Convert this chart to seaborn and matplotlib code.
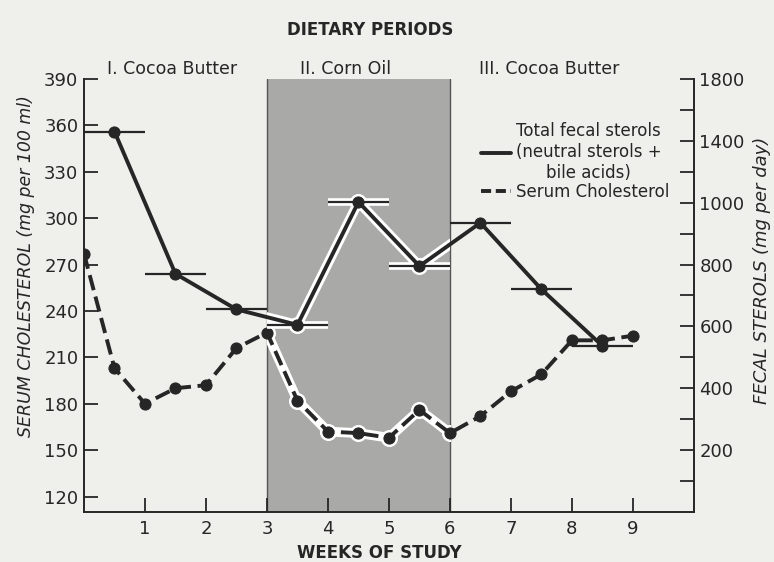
import numpy as np
import pandas as pd
import matplotlib
matplotlib.use("Agg")
import matplotlib.pyplot as plt
from matplotlib.lines import Line2D
from matplotlib.patches import Rectangle
import seaborn as sns

# ---------------- data ----------------
serum_weeks = [0, 0.5, 1, 1.5, 2, 2.5, 3, 3.5, 4, 4.5, 5, 5.5, 6, 6.5, 7, 7.5, 8, 8.5, 9]
serum_chol = [277, 203, 180, 190, 192, 216, 226, 182, 162, 161, 158, 176, 161, 172, 188, 199, 221, 221, 224]

fecal_weeks = [0.5, 1.5, 2.5, 3.5, 4.5, 5.5, 6.5, 7.5, 8.5]
fecal_sterols = [1460, 770, 655, 605, 1005, 795, 935, 720, 537]

left_ticks = [120, 150, 180, 210, 240, 270, 300, 330, 360, 390]
right_major = [200, 400, 600, 800, 1000, 1400, 1800]
right_minor = [100, 300, 500, 700, 900, 1200, 1600]
week_ticks = [1, 2, 3, 4, 5, 6, 7, 8, 9]

period_labels = ["I. Cocoa Butter", "II. Corn Oil", "III. Cocoa Butter"]
corn_start, corn_end = 3, 6

# right axis breakpoints (the printed axis is unevenly spaced)
r_vals = [0, 200, 400, 600, 800, 1000, 1400, 1800]
r_pos = [110, 150, 190, 230, 270, 310, 350, 390]

# ---------------- style ----------------
sns.set_style("ticks")
plt.rcParams['font.family'] = ['DejaVu Sans']
INK = "#262626"
BG = "#efefeb"

fig = plt.figure(figsize=(7.74, 5.62), dpi=100, facecolor=BG)
ax = fig.add_axes([0.1085, 0.089, 0.788, 0.7705])
ax.set_facecolor(BG)

# shaded corn-oil period
ax.axvspan(corn_start, corn_end, facecolor="#a9a9a7", edgecolor="none", zorder=0)
ax.axvline(corn_start, color="#555555", lw=1.0, zorder=0.5)
ax.axvline(corn_end, color="#555555", lw=1.0, zorder=0.5)


def clip_to_period(artist, axis):
    rect = Rectangle((corn_start, 0), corn_end - corn_start, 1,
                     transform=axis.get_xaxis_transform())
    artist.set_clip_path(rect)


df_s = pd.DataFrame({"week": serum_weeks, "chol": serum_chol})
# white halo inside the shaded period
n0 = len(ax.lines)
sns.lineplot(data=df_s, x="week", y="chol", ax=ax, color="white", lw=7,
             marker="o", markersize=11.5, markeredgecolor="white", zorder=2)
for ln in ax.lines[n0:]:
    clip_to_period(ln, ax)
sns.lineplot(data=df_s, x="week", y="chol", ax=ax, color=INK, lw=2.8,
             linestyle=(0, (4, 1.7)), marker="o", markersize=8,
             markeredgecolor=INK, zorder=3)

ax.set_xlim(0, 10)
ax.set_ylim(110, 390)
ax.set_yticks(left_ticks)
ax.set_xticks(week_ticks)
ax.tick_params(axis="both", direction="in", length=10, width=1.3, colors=INK,
               labelsize=13, pad=4)
ax.tick_params(axis="x", pad=6)
for s in ["left", "bottom"]:
    ax.spines[s].set_color(INK)
    ax.spines[s].set_linewidth(1.4)
ax.spines["top"].set_visible(False)
ax.spines["right"].set_visible(False)
ax.set_xlabel("WEEKS OF STUDY", fontsize=12, fontweight="bold", color=INK)
ax.xaxis.set_label_coords(0.485, -0.075)
ax.set_ylabel("SERUM CHOLESTEROL (mg per 100 ml)", fontsize=12.5, style="italic",
              color=INK)
ax.yaxis.set_label_coords(-0.08, 0.568)


# right axis
def fwd(v):
    return np.interp(v, r_vals, r_pos)


def inv(p):
    return np.interp(p, r_pos, r_vals)


ax2 = ax.twinx()
ax2.set_yscale("function", functions=(fwd, inv))
ax2.set_ylim(0, 1800)
ax2.set_yticks(right_major)
ax2.set_yticks(right_minor, minor=True)
ax2.yaxis.set_minor_formatter(matplotlib.ticker.NullFormatter())
ax2.tick_params(axis="y", which="both", direction="in", length=10, width=1.3,
                colors=INK, labelsize=13, pad=4)
for s in ["top", "left", "bottom"]:
    ax2.spines[s].set_visible(False)
ax2.spines["right"].set_color(INK)
ax2.spines["right"].set_linewidth(1.4)
ax2.set_ylabel("FECAL STEROLS (mg per day)", fontsize=13, style="italic",
               color=INK, rotation=90)
ax2.yaxis.set_label_coords(1.097, 0.559)

df_f = pd.DataFrame({"week": fecal_weeks, "fecal": fecal_sterols})
fw = np.array(fecal_weeks)
n0 = len(ax2.lines)
sns.lineplot(data=df_f, x="week", y="fecal", ax=ax2, color="white", lw=7,
             marker="o", markersize=11.5, markeredgecolor="white", zorder=2)
for ln in ax2.lines[n0:]:
    clip_to_period(ln, ax2)
hal = ax2.hlines(fecal_sterols, fw - 0.5, fw + 0.5, color="white", lw=5.5, zorder=2)
clip_to_period(hal, ax2)
ax2.hlines(fecal_sterols, fw - 0.5, fw + 0.5, color=INK, lw=1.6, zorder=2.5)
sns.lineplot(data=df_f, x="week", y="fecal", ax=ax2, color=INK, lw=2.8,
             marker="o", markersize=8, markeredgecolor=INK, zorder=3)
ax2.set_xlim(0, 10)

# text
fig.text(0.478, 0.946, "DIETARY PERIODS", fontsize=12, fontweight="bold",
         color=INK, ha="center", va="center")
for lab, xw in zip(period_labels, [0.38, 3.55, 6.48]):
    ax.text(xw, 1.022, lab, transform=ax.get_xaxis_transform(), fontsize=12.5,
            color=INK, ha="left", va="center")

handles = [Line2D([], [], color=INK, lw=2.8),
           Line2D([], [], color=INK, lw=2.8, linestyle=(0, (2.6, 1.2)))]
leg = ax2.legend(handles, ["Total fecal sterols\n(neutral sterols +\nbile acids)",
                           "Serum Cholesterol"],
                 loc="upper left", bbox_to_anchor=(0.64, 0.915), frameon=False,
                 fontsize=12, handlelength=1.8, handletextpad=0.3,
                 labelspacing=0.05, borderaxespad=0)
for t in leg.get_texts():
    t.set_multialignment("center")
    t.set_color(INK)

fig.savefig("out.png", dpi=100, facecolor=BG)
